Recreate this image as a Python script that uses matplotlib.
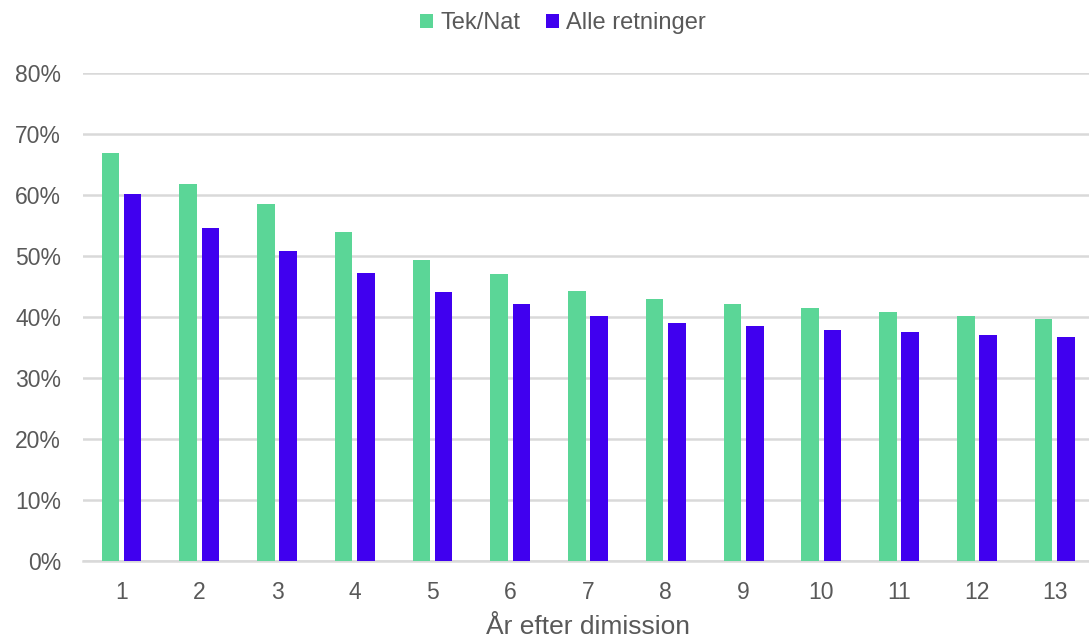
import numpy as np
import matplotlib.pyplot as plt
from matplotlib.ticker import PercentFormatter

plt.rcParams['font.family'] = ['Liberation Sans', 'DejaVu Sans']

years = [str(i) for i in range(1, 14)]
tek_nat = [66.8, 61.8, 58.5, 54.0, 49.3, 47.1, 44.2, 43.0, 42.2, 41.4, 40.9, 40.2, 39.6]
alle = [60.1, 54.6, 50.8, 47.2, 44.1, 42.2, 40.1, 39.1, 38.5, 37.9, 37.5, 37.1, 36.8]

green = '#5bd697'
blue = '#4000ef'
txt = '#595959'

fig = plt.figure(figsize=(10.89, 6.38), dpi=100)
# right edge runs a bit past the figure, like the original
ax = fig.add_axes([0.0758, 0.1202, 0.9284, 0.7658])

x = np.arange(len(years))
w = 0.226
gap = 0.06
ax.bar(x - (w + gap) / 2, np.array(tek_nat) / 100, w, color=green, label='Tek/Nat', zorder=3)
ax.bar(x + (w + gap) / 2, np.array(alle) / 100, w, color=blue, label='Alle retninger', zorder=3)

ax.set_xlim(-0.5, len(years) - 0.5)
ax.set_ylim(0, 0.8)
ax.set_yticks(np.arange(0, 0.81, 0.1))
ax.yaxis.set_major_formatter(PercentFormatter(1.0, decimals=0))
ax.set_xticks(x)
ax.set_xticklabels(years)

ax.grid(axis='y', color='#d9d9d9', linewidth=1.8, zorder=0)
for s in ['top', 'right', 'left']:
    ax.spines[s].set_visible(False)
ax.spines['bottom'].set_color('#d9d9d9')
ax.spines['bottom'].set_linewidth(1.8)
ax.tick_params(axis='both', length=0, labelsize=16.5, labelcolor=txt)
ax.tick_params(axis='y', pad=15.5)
ax.tick_params(axis='x', pad=14)

ax.set_xlabel('År efter dimission', fontsize=19, color=txt, labelpad=8)

fig.legend(loc='upper center', bbox_to_anchor=(0.517, 1.014), ncol=2, frameon=False,
           fontsize=17, labelcolor=txt, handlelength=0.55, handleheight=0.55,
           handletextpad=0.3, columnspacing=1.1)

fig.savefig('out.png', dpi=100)
